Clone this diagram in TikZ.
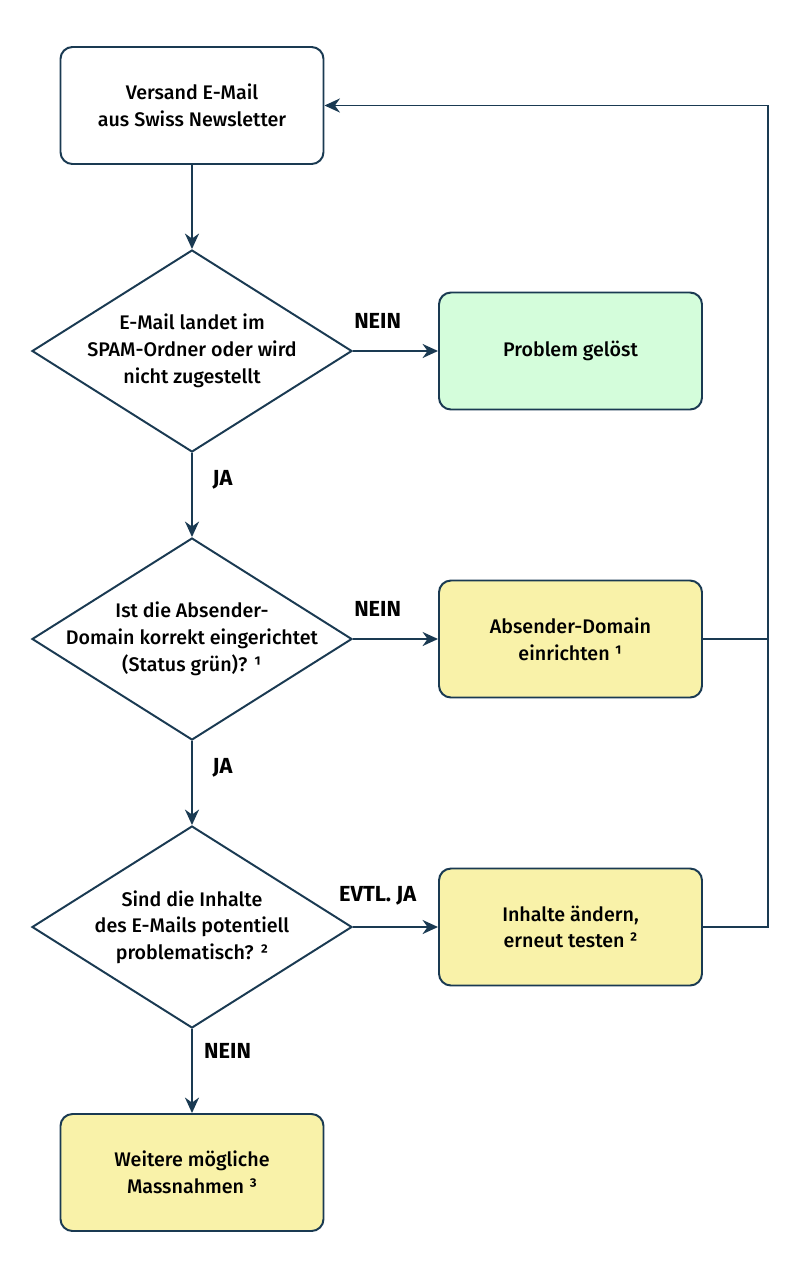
\documentclass[tikz,border=0pt]{standalone}
\usepackage{fontspec}
\setmainfont{Fira Sans}[UprightFont={* Medium},BoldFont={* Bold}]
\usetikzlibrary{shapes.geometric,arrows.meta,positioning}
\definecolor{linecol}{HTML}{1A3A52}
\definecolor{okgreen}{HTML}{D4FDDB}
\definecolor{todoyellow}{HTML}{F9F2A9}
\begin{document}
\begin{tikzpicture}[node distance=7.2cm,>={Stealth[length=11pt,width=10pt]},line width=1.4pt,
    box/.style={draw=linecol, rectangle, rounded corners=8.5pt, minimum width=6.575cm, minimum height=2.925cm, align=center, font=\fontsize{14}{19}\selectfont},
    question/.style={draw=linecol, diamond, aspect=1.584, inner sep=-8pt, minimum width=8cm, minimum height=5.05cm, align=center, font=\fontsize{14}{19}\selectfont},
    answer/.style={text=black, font=\bfseries\fontsize{15.5}{18}\selectfont, inner sep=0pt}]
        \useasboundingbox (-4.8,2.6375) rectangle (15.2,-29.3625);
        \node (start) [box] at (0,0) {Versand E-Mail\\aus Swiss Newsletter};
        \node (spam) [question, below of=start, node distance=6.1375cm] {E-Mail landet im\\SPAM-Ordner oder wird\\nicht zugestellt};
        \node (domain) [question, below of=spam] {Ist die Absender-\\Domain korrekt eingerichtet\\(Status grün)? ¹};
        \node (content) [question, below of=domain] {Sind die Inhalte\\des E-Mails potentiell\\problematisch? ²};
        \node (more) [box, fill=todoyellow, below of=content, node distance=6.1375cm] {Weitere mögliche\\Massnahmen ³};

        \node (solved) [box, fill=okgreen, right of=spam, node distance=9.4625cm] {Problem gelöst};
        \node (setup) [box, fill=todoyellow, right of=domain, node distance=9.4625cm] {Absender-Domain\\einrichten ¹};
        \node (change) [box, fill=todoyellow, right of=content, node distance=9.4625cm] {Inhalte ändern,\\erneut testen ²};

        \draw[->, linecol] (start) -- (spam);
        \draw[->, linecol] (spam) -- node[answer, pos=0.32, right=14pt]{JA} (domain);
        \draw[->, linecol] (domain) -- node[answer, pos=0.32, right=14pt]{JA} (content);
        \draw[->, linecol] (content) -- node[answer, pos=0.26, right=8pt]{NEIN} (more);

        \draw[->, linecol] (spam) -- node[answer, pos=0.29, above=15pt]{NEIN} (solved);
        \draw[->, linecol] (domain) -- node[answer, pos=0.29, above=15pt]{NEIN} (setup);
        \draw[->, linecol] (content) -- node[answer, pos=0.29, above=15pt]{EVTL. JA} (change);

        % back to the start
        \draw[linecol] (setup.east) -- ++(1.625cm,0);
        \draw[->, linecol] (change.east) -- ++(1.625cm,0) |- (start.east);
    \end{tikzpicture}
\end{document}
